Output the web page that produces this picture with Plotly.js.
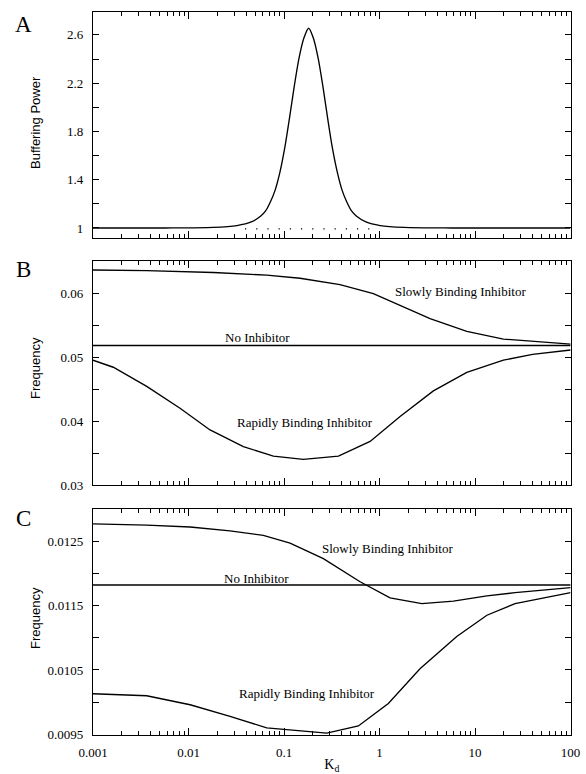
<!DOCTYPE html>
<html>
<head>
<meta charset="utf-8">
<script src="https://cdn.plot.ly/plotly-3.0.1.min.js"></script>
<style>
  html, body { margin: 0; padding: 0; background: #fff; }
  #chart { width: 586px; height: 774px; }
</style>
</head>
<body>
<div id="chart"></div>
<script>
// ---------- data ----------
// Panel A: buffering power vs Kd
const kdA = [0.001, 0.00571, 0.0181, 0.0321, 0.0454, 0.0571, 0.0641, 0.0719, 0.0807, 0.0906, 0.1016, 0.114, 0.128, 0.1435, 0.161, 0.181, 0.203, 0.2275, 0.255, 0.286, 0.321, 0.361, 0.405, 0.454, 0.509, 0.571, 0.719, 1.016, 1.81, 5.71, 100];
const bufA = [1.0, 1.0, 1.005, 1.020, 1.050, 1.099, 1.141, 1.215, 1.314, 1.463, 1.662, 1.910, 2.175, 2.407, 2.572, 2.655, 2.572, 2.407, 2.175, 1.910, 1.662, 1.463, 1.314, 1.215, 1.141, 1.099, 1.050, 1.020, 1.005, 1.0, 1.0];
const kdAdots = [0.039, 0.875];
const bufAdots = [0.993, 0.993];

// Panel B
const kdBslow = [0.001, 0.00365, 0.0182, 0.0659, 0.147, 0.385, 0.861, 1.64, 3.38, 8.19, 19.8, 100];
const freqBslow = [0.0636, 0.0635, 0.0632, 0.0628, 0.0623, 0.0613, 0.0599, 0.0581, 0.0560, 0.0540, 0.0528, 0.0520];
const kdBnone = [0.001, 100];
const freqBnone = [0.0518, 0.0518];
const kdBrapid = [0.001, 0.00163, 0.00365, 0.00815, 0.0168, 0.0375, 0.0773, 0.159, 0.371, 0.796, 1.64, 3.66, 8.19, 19.8, 40, 100];
const freqBrapid = [0.0495, 0.0484, 0.0454, 0.0420, 0.0386, 0.0360, 0.0345, 0.0340, 0.0345, 0.0368, 0.0407, 0.0447, 0.0476, 0.0495, 0.0504, 0.0511];

// Panel C
const kdCslow = [0.001, 0.00365, 0.0104, 0.0272, 0.0607, 0.1156, 0.258, 0.625, 1.288, 2.77, 5.93, 13.3, 26.2, 100];
const freqCslow = [0.01277, 0.01275, 0.01272, 0.01266, 0.01259, 0.01247, 0.01223, 0.01187, 0.01162, 0.01153, 0.01157, 0.01165, 0.01170, 0.01178];
const kdCnone = [0.001, 100];
const freqCnone = [0.01182, 0.01182];
const kdCrapid = [0.001, 0.00365, 0.0104, 0.0272, 0.0659, 0.147, 0.280, 0.600, 1.236, 2.65, 6.43, 13.3, 26.2, 100];
const freqCrapid = [0.01013, 0.01010, 0.00996, 0.00978, 0.00960, 0.00955, 0.00952, 0.00963, 0.00998, 0.01052, 0.01102, 0.01135, 0.01153, 0.01170];

// tick labels
const xTickVals = [0.001, 0.01, 0.1, 1, 10, 100];
const xTickText = ['0.001', '0.01', '0.1', '1', '10', '100'];
const yTickValsC = [0.0095, 0.0105, 0.0115, 0.0125];
const yTickTextC = ['0.0095', '0.0105', '0.0115', '0.0125'];

const labelSlow = 'Slowly Binding Inhibitor';
const labelNone = 'No Inhibitor';
const labelRapid = 'Rapidly Binding Inhibitor';

// ---------- layout helpers ----------
const W = 586, H = 774;
const px = v => v / W;
const py = v => 1 - v / H;
const serif = 'Liberation Serif, Times New Roman, serif';
const sans = 'Liberation Sans Narrow, Liberation Sans, Arial, sans-serif';

const minorX = [];
for (let d = -3; d < 2; d++) for (let k = 2; k <= 9; k++) minorX.push(k * Math.pow(10, d));

const lineStyle = {color: '#000', width: 1.35};

function xAx(showLabels) {
  return {
    type: 'log', range: [-3, 2], domain: [px(93), px(570.6)],
    tickmode: 'array', tickvals: xTickVals, ticktext: xTickText,
    showticklabels: showLabels, ticks: 'inside', ticklen: 7, tickwidth: 1, tickcolor: '#000',
    minor: {tickmode: 'array', tickvals: minorX, ticks: 'inside', ticklen: 4, tickwidth: 1, tickcolor: '#000', showgrid: false},
    showline: true, linecolor: '#000', linewidth: 1.2, mirror: 'ticks',
    showgrid: false, zeroline: false, ticklabelstandoff: 5,
    tickfont: {family: serif, size: 13, color: '#000'}
  };
}
function yAx(range, dom, extra) {
  return Object.assign({
    range: range, domain: dom,
    ticks: 'inside', ticklen: 6, tickwidth: 1, tickcolor: '#000',
    showline: true, linecolor: '#000', linewidth: 1.2, mirror: 'ticks',
    showgrid: false, zeroline: false, ticklabelstandoff: 6,
    tickfont: {family: serif, size: 13, color: '#000'}
  }, extra);
}

const traces = [
  {x: kdA, y: bufA, xaxis: 'x', yaxis: 'y', mode: 'lines', line: Object.assign({shape: 'spline', smoothing: 0.8}, lineStyle)},
  {x: kdAdots, y: bufAdots, xaxis: 'x', yaxis: 'y', mode: 'lines', line: {color: '#000', width: 1.2, dash: '1.2px,10px'}},
  {x: kdBslow, y: freqBslow, xaxis: 'x2', yaxis: 'y2', mode: 'lines', line: lineStyle},
  {x: kdBnone, y: freqBnone, xaxis: 'x2', yaxis: 'y2', mode: 'lines', line: lineStyle},
  {x: kdBrapid, y: freqBrapid, xaxis: 'x2', yaxis: 'y2', mode: 'lines', line: lineStyle},
  {x: kdCslow, y: freqCslow, xaxis: 'x3', yaxis: 'y3', mode: 'lines', line: lineStyle},
  {x: kdCnone, y: freqCnone, xaxis: 'x3', yaxis: 'y3', mode: 'lines', line: lineStyle},
  {x: kdCrapid, y: freqCrapid, xaxis: 'x3', yaxis: 'y3', mode: 'lines', line: lineStyle}
];

function txt(xp, yp, text, size, family, angle) {
  return {xref: 'paper', yref: 'paper', x: px(xp), y: py(yp), text: text, showarrow: false,
    xanchor: 'center', yanchor: 'middle', textangle: angle || 0,
    font: {family: family, size: size, color: '#000'}};
}

const layout = {
  width: W, height: H, margin: {l: 0, r: 0, t: 0, b: 0},
  paper_bgcolor: '#fff', plot_bgcolor: '#fff', showlegend: false,
  xaxis: Object.assign(xAx(false), {anchor: 'y'}),
  xaxis2: Object.assign(xAx(false), {anchor: 'y2'}),
  xaxis3: Object.assign(xAx(true), {anchor: 'y3',
    title: {text: 'K<sub>d</sub>', font: {family: serif, size: 14, color: '#000'}, standoff: 3}}),
  yaxis: yAx([0.917, 2.79], [py(238), py(12)], {anchor: 'x', tickmode: 'linear', tick0: 1, dtick: 0.4,
    minor: {dtick: 0.2, tick0: 1, ticks: 'inside', ticklen: 6, tickwidth: 1, tickcolor: '#000', showgrid: false}}),
  yaxis2: yAx([0.03, 0.0650], [py(485), py(261)], {anchor: 'x2', tickmode: 'linear', tick0: 0.03, dtick: 0.01,
    minor: {dtick: 0.005, tick0: 0.03, ticks: 'inside', ticklen: 6, tickwidth: 1, tickcolor: '#000', showgrid: false}}),
  yaxis3: yAx([0.00949, 0.0130], [py(735), py(509)], {anchor: 'x3', tickmode: 'array', tickvals: yTickValsC, ticktext: yTickTextC,
    minor: {dtick: 0.0005, tick0: 0.0095, ticks: 'inside', ticklen: 6, tickwidth: 1, tickcolor: '#000', showgrid: false}}),
  annotations: [
    txt(23, 24, 'A', 23, serif),
    txt(23, 269, 'B', 23, serif),
    txt(23, 518, 'C', 23, serif),
    txt(35, 123, 'Buffering Power', 13, sans, -90),
    txt(35, 368, 'Frequency', 13, sans, -90),
    txt(35, 618, 'Frequency', 13, sans, -90),
    txt(460, 291, labelSlow, 13, serif),
    txt(257, 337, labelNone, 13, serif),
    txt(305, 422, labelRapid, 13, serif),
    txt(387, 548, labelSlow, 13, serif),
    txt(256, 578, labelNone, 13, serif),
    txt(307, 693, labelRapid, 13, serif)
  ]
};

Plotly.newPlot('chart', traces, layout, {displayModeBar: false, staticPlot: true});
</script>
</body>
</html>
